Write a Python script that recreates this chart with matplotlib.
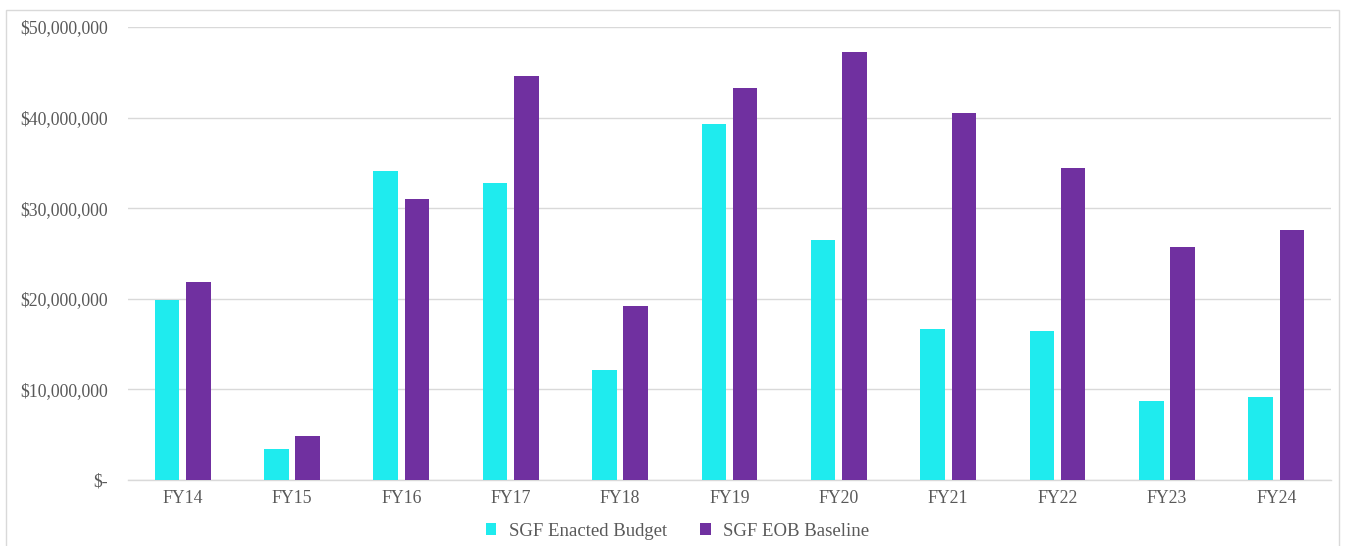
import matplotlib
matplotlib.use("Agg")
import matplotlib.pyplot as plt
from matplotlib.patches import Rectangle
from matplotlib.ticker import FuncFormatter
import numpy as np

categories = ["FY14", "FY15", "FY16", "FY17", "FY18", "FY19", "FY20", "FY21", "FY22", "FY23", "FY24"]
enacted = [19.9e6, 3.4e6, 34.1e6, 32.8e6, 12.1e6, 39.25e6, 26.5e6, 16.7e6, 16.45e6, 8.7e6, 9.2e6]
eob = [21.8e6, 4.9e6, 31.0e6, 44.6e6, 19.2e6, 43.3e6, 47.2e6, 40.5e6, 34.4e6, 25.7e6, 27.65e6]
series_names = ["SGF Enacted Budget", "SGF EOB Baseline"]
yticks = [0, 10e6, 20e6, 30e6, 40e6, 50e6]

cyan = "#1FEBEE"
purple = "#7030A0"
grid_c = "#D9D9D9"
text_c = "#595959"

plt.rcParams['font.family'] = ['Liberation Serif', 'DejaVu Serif']

fig = plt.figure(figsize=(13.51, 5.46), dpi=100)
ax = fig.add_axes([0.0947, 0.1209, 0.8905, 0.8296])

x = np.arange(len(categories))
w = 0.224
off = 0.143
ax.bar(x - off, enacted, width=w, color=cyan, label=series_names[0], zorder=3, linewidth=0)
ax.bar(x + off, eob, width=w, color=purple, label=series_names[1], zorder=3, linewidth=0)

ax.set_xlim(-0.5, len(categories) - 0.5)
ax.set_ylim(0, 50e6)
ax.set_yticks(yticks)

def fmt(v, pos):
    if v == 0:
        return "$-"
    return "${:,.0f}".format(v)
ax.yaxis.set_major_formatter(FuncFormatter(fmt))
ax.set_xticks(x)
ax.set_xticklabels(categories)

ax.grid(axis='y', color=grid_c, linewidth=1.0, zorder=0)
ax.set_axisbelow(True)
for s in ['top', 'right', 'left']:
    ax.spines[s].set_visible(False)
ax.spines['bottom'].set_color(grid_c)
ax.spines['bottom'].set_linewidth(1.0)
ax.tick_params(axis='both', length=0, colors=text_c, labelsize=12.8)
ax.tick_params(axis='y', pad=14.5)
ax.tick_params(axis='x', pad=7.5)

leg = fig.legend(loc='center', bbox_to_anchor=(0.5015, 0.027), ncol=2, frameon=False,
                 fontsize=13.5, handlelength=0.55, handleheight=0.55, handletextpad=0.65,
                 columnspacing=1.8, labelcolor=text_c)

fig.patches.append(Rectangle((6/1351, -0.02), (1339-6)/1351, 1 - 10/546 + 0.02,
                             transform=fig.transFigure, fill=False, edgecolor=grid_c,
                             linewidth=1.0, zorder=0))

fig.savefig("out.png", dpi=100)
